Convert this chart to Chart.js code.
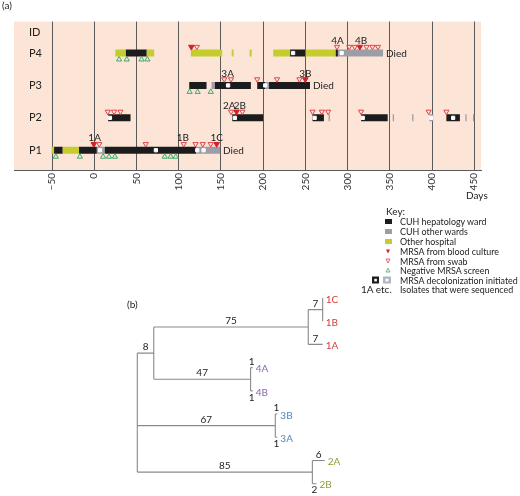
<!DOCTYPE html>
<html><head><meta charset="utf-8">
<script src="https://cdn.jsdelivr.net/npm/chart.js@4.4.0/dist/chart.umd.min.js"></script>
<style>
html,body{margin:0;padding:0;background:#fff;}
body{width:520px;height:496px;position:relative;overflow:hidden;font-family:Lato,"Liberation Sans",sans-serif;color:#222;}
canvas{position:absolute;left:0;}
#ca{top:0;}
#cb{top:285px;}
.t{position:absolute;font-size:10px;line-height:12px;white-space:nowrap;}
.k{transform:scaleX(0.89);transform-origin:left center;}
</style></head><body>
<canvas id="ca" width="520" height="200"></canvas>
<canvas id="cb" width="520" height="211"></canvas>
<div class="t" style="left:2px;top:-1px">(a)</div>
<div class="t" style="left:466px;top:189px">Days</div>
<div class="t" style="left:127px;top:298px">(b)</div>
<div class="t" style="left:386px;top:205px">Key:</div>
<div class="t k" style="left:400px;top:215px">CUH hepatology ward</div>
<div class="t k" style="left:400px;top:225px">CUH other wards</div>
<div class="t k" style="left:400px;top:235px">Other hospital</div>
<div class="t k" style="left:400px;top:245px">MRSA from blood culture</div>
<div class="t k" style="left:400px;top:255px">MRSA from swab</div>
<div class="t k" style="left:400px;top:264px">Negative MRSA screen</div>
<div class="t k" style="left:400px;top:274px">MRSA decolonization initiated</div>
<div class="t" style="left:361px;top:283px">1A etc.</div>
<div class="t k" style="left:400px;top:283px">Isolates that were sequenced</div>
<svg style="position:absolute;left:0;top:0" width="520" height="496">
  <rect x="385" y="219" width="7" height="5" fill="#1c1c1c"/>
  <rect x="385" y="229" width="7" height="5" fill="#9c9da6"/>
  <rect x="385" y="239" width="7" height="5" fill="#c5cd2e"/>
  <polygon points="386,249.5 390,249.5 388,253.5" fill="#d42027"/>
  <polygon points="386,259 390,259 388,263" fill="none" stroke="#e0454a" stroke-width="0.8"/>
  <polygon points="386,272 390,272 388,268.3" fill="none" stroke="#3daa6a" stroke-width="0.8"/>
  <rect x="372" y="276.5" width="7" height="7" fill="#1c1c1c"/>
  <rect x="374.3" y="278.8" width="2.6" height="2.6" fill="#fff"/>
  <rect x="383" y="276.5" width="8" height="7" fill="#b4b5bc"/>
  <rect x="385.5" y="278.8" width="3" height="2.6" fill="#fff"/>
</svg>
<script>
// ---------- panel (a) data ----------
const dayTicks = [-50, 0, 50, 100, 150, 200, 250, 300, 350, 400, 450];
const rowLabels = ['P1', 'P2', 'P3', 'P4', 'ID'];
const rowValues = [1, 2, 3, 4, 4.64];

// stays: [startDay, endDay, row]
const hepatologyStays = [[37.5,62,4],[232,250,4],[286,288.5,4],
  [112.5,133,3],[143,185.5,3],[193,202.5,3],[207,255.5,3],
  [16.5,43,2],[163.5,200,2],[258.5,272,2],[316,347.5,2],[417,433,2],
  [-47.5,-37.5,1],[-18,3,1],[12.5,120.5,1]];
const otherWardStays = [[288.5,342,4],[139,143,3],[202.5,207,3],
  [277.5,279,2],[353.5,355,2],[376.5,378,2],[397,401.5,2],[439.5,441,2],[448.5,450,2],
  [3,12.5,1],[120.5,149,1]];
const otherHospitalStays = [[25,37.5,4],[62,71,4],[114.5,151.5,4],[162.8,165,4],[184,186.5,4],[212,232,4],[250,286,4],
  [-50.5,-47.5,1],[-37.5,-18,1]];

// events: [day, row]
const decolonization = [[235.5,4],[293,4],[158.5,3],[202.5,3],[18.6,2],[166.6,2],[261,2],[318,2],[399,2],[425,2],[6.8,1],[73,1],[122,1],[129.5,1]];
const bloodCulture = [[115,4],[314.5,4],[250,3],[168.5,2],[-0.5,1],[145,1]];
const swab = [[121.5,4],[287.5,4],[302,4],[308.5,4],[322.5,4],[329.5,4],[336,4],
  [154,3],[162,3],[193,3],[216.5,3],[243,3],
  [16,2],[23.5,2],[31,2],[162,2],[175.5,2],[258.5,2],[269.5,2],[277,2],[316,2],[396,2],[417,2],
  [6,1],[61,1],[106,1],[120,1],[128.5,1],[138,1]];
const negativeScreen = [[29.5,4],[38.5,4],[56,4],[63,4],[113,3],[122.5,3],[138,3],
  [-45.5,1],[-17,1],[10.5,1],[17.5,1],[24.5,1],[83.5,1],[90.5,1],[96.5,1]];

const isolateIds  = ['1A','1B','1C','2A','2B','3A','3B','4A','4B'];
const isolateDays = [0.5, 105, 145, 160, 172.5, 158, 250, 288, 316];
const isolateRows = [1, 1, 1, 2, 2, 3, 3, 4, 4];
const diedDays = [149, 255.5, 342];
const diedRows = [1, 3, 4];

// ---------- panel (b) data ----------
const treeNode   = ['root','n8','n1','n1BC','1C','1B','1A','n4','4A','4B','n3','3B','3A','n2','2A','2B'];
const treeParent = ['','root','n8','n1','n1BC','n1BC','n1','n8','n4','n4','root','n3','n3','root','n2','n2'];
const treeBranch = [0, 8, 75, 7, 0, 0, 7, 47, 1, 1, 67, 1, 1, 85, 6, 2];
const labelBelow = ['4B','3A','2B'];
const leafColors = {'1':'#d0403c','2':'#969a3c','3':'#4f86c2','4':'#8a68b0'};

// ---------- styles ----------
const PEACH = '#fce4d6', BLACK = '#1c1c1c', GRAY = '#9c9da6', YELLOW = '#c5cd2e';
const FONT = 'Lato, "Liberation Sans", sans-serif';
const ABOVE = 0.19, BELOW = -0.2, LABEL = 0.37;

const stayBars = (arr) => arr.map(s => ({x: [s[0], s[1]], y: s[2]}));
const pts = (arr, off) => arr.map(p => ({x: p[0], y: p[1] + off}));

const bg = {
  id: 'bg',
  beforeDraw(c) {
    const a = c.chartArea, ctx = c.ctx;
    ctx.save(); ctx.fillStyle = PEACH;
    ctx.fillRect(a.left, a.top, a.right - a.left, a.bottom - a.top);
    ctx.restore();
  }
};
const marks = {
  id: 'marks',
  afterDatasetsDraw(c) {
    const ctx = c.ctx, x = c.scales.x, y = c.scales.y;
    ctx.save();
    ctx.font = '10px ' + FONT; ctx.fillStyle = '#222';
    ctx.textAlign = 'center'; ctx.textBaseline = 'middle';
    isolateIds.forEach((id, i) => ctx.fillText(id, x.getPixelForValue(isolateDays[i]), y.getPixelForValue(isolateRows[i] + LABEL)));
    ctx.textAlign = 'left';
    diedRows.forEach((r, i) => ctx.fillText('Died', x.getPixelForValue(diedDays[i]) + 3, y.getPixelForValue(r) + 0.5));
    ctx.restore();
  }
};

const barDs = (label, arr, color) => ({
  type: 'bar', label, indexAxis: 'y', data: stayBars(arr), backgroundColor: color,
  borderWidth: 0, borderSkipped: false, grouped: false, maxBarThickness: 7, barPercentage: 0.9, order: 3
});
const ptDs = (label, data, style, rot, r, bgc, bc) => ({
  type: 'scatter', label, data, pointStyle: style, rotation: rot, pointRadius: r,
  backgroundColor: bgc, borderColor: bc, borderWidth: 1, order: 1
});

new Chart(document.getElementById('ca'), {
  type: 'scatter',
  data: {
    datasets: [
      barDs('CUH hepatology ward', hepatologyStays, BLACK),
      barDs('CUH other wards', otherWardStays, GRAY),
      barDs('Other hospital', otherHospitalStays, YELLOW),
      ptDs('MRSA decolonization initiated', pts(decolonization, 0), 'rect', 0, 2.3, '#ffffff', '#ffffff'),
      ptDs('Negative MRSA screen', pts(negativeScreen, BELOW), 'triangle', 0, 3, 'rgba(0,0,0,0)', '#3daa6a'),
      ptDs('MRSA from swab', pts(swab, ABOVE), 'triangle', 180, 3, 'rgba(0,0,0,0)', '#e0454a'),
      ptDs('MRSA from blood culture', pts(bloodCulture, ABOVE), 'triangle', 180, 3.2, '#d42027', '#d42027')
    ]
  },
  options: {
    responsive: false, animation: false, events: [],
    layout: {padding: {left: 14, right: 39, top: 5, bottom: 0}},
    plugins: {legend: {display: false}, tooltip: {enabled: false}},
    scales: {
      x: {
        type: 'linear', min: -95, max: 458, offset: false,
        afterBuildTicks: s => { s.ticks = dayTicks.map(v => ({value: v})); },
        afterFit: s => { s.height = 30; },
        grid: {color: '#5a5a5a', lineWidth: 1, drawTicks: false, offset: false},
        border: {color: '#5a5a5a', width: 1},
        ticks: {minRotation: 90, maxRotation: 90, padding: 3, color: '#333', font: {size: 10, family: FONT},
          callback: v => String(v).replace('-', '\u2212')}
      },
      y: {
        type: 'linear', min: 0.39, max: 4.97, offset: false,
        afterBuildTicks: s => { s.ticks = rowValues.map(v => ({value: v})); },
        afterFit: s => { s.width = 0; },
        grid: {display: false, offset: false},
        border: {display: false},
        ticks: {mirror: true, padding: 15, color: '#222', font: {size: 11, family: FONT},
          callback: (v, i) => rowLabels[i]}
      }
    }
  },
  plugins: [bg, marks]
});

// ---------- tree layout from branch lengths ----------
const nodeX = {}, nodeY = {}, kids = {};
treeNode.forEach((n, i) => {
  const p = treeParent[i];
  nodeX[n] = (p ? nodeX[p] : 0) + treeBranch[i];
  if (p) (kids[p] = kids[p] || []).push(n);
});
let leafRank = 0;
function placeY(n) {
  if (!kids[n]) { nodeY[n] = leafRank++; return nodeY[n]; }
  const ys = kids[n].map(placeY);
  nodeY[n] = (ys[0] + ys[ys.length - 1]) / 2;
  return nodeY[n];
}
placeY('root');
const edges = [];
treeNode.forEach((n, i) => {
  const p = treeParent[i];
  if (p && treeBranch[i] > 0) edges.push({x: nodeX[p], y: nodeY[n]}, {x: nodeX[n], y: nodeY[n]}, {x: null, y: null});
  if (kids[n]) {
    const k = kids[n];
    edges.push({x: nodeX[n], y: nodeY[k[0]]}, {x: nodeX[n], y: nodeY[k[k.length - 1]]}, {x: null, y: null});
  }
});

const treeText = {
  id: 'treeText',
  afterDatasetsDraw(c) {
    const ctx = c.ctx, x = c.scales.x, y = c.scales.y;
    ctx.save();
    ctx.font = '10px ' + FONT;
    treeNode.forEach((n, i) => {
      const p = treeParent[i];
      if (!kids[n]) {
        ctx.fillStyle = leafColors[n[0]]; ctx.textAlign = 'left'; ctx.textBaseline = 'middle';
        ctx.fillText(n, x.getPixelForValue(nodeX[n]) + 3, y.getPixelForValue(nodeY[n]) + 1.5);
      }
      if (p && treeBranch[i] > 0) {
        const mx = x.getPixelForValue((nodeX[p] + nodeX[n]) / 2), py = y.getPixelForValue(nodeY[n]);
        ctx.fillStyle = '#222'; ctx.textAlign = 'center';
        if (labelBelow.includes(n)) { ctx.textBaseline = 'top'; ctx.fillText(String(treeBranch[i]), mx, py + 1.5); }
        else { ctx.textBaseline = 'bottom'; ctx.fillText(String(treeBranch[i]), mx, py - 1); }
      }
    });
    ctx.restore();
  }
};

new Chart(document.getElementById('cb'), {
  type: 'scatter',
  data: {datasets: [{data: edges, showLine: true, spanGaps: false, pointRadius: 0, borderColor: '#8a8a8a', borderWidth: 1.1}]},
  options: {
    responsive: false, animation: false, events: [],
    layout: {padding: 0},
    plugins: {legend: {display: false}, tooltip: {enabled: false}},
    scales: {
      x: {type: 'linear', display: false, min: -66.65, max: 185.8},
      y: {type: 'linear', display: false, min: -0.56, max: 8.53, reverse: true}
    }
  },
  plugins: [treeText]
});
</script>
</body></html>
